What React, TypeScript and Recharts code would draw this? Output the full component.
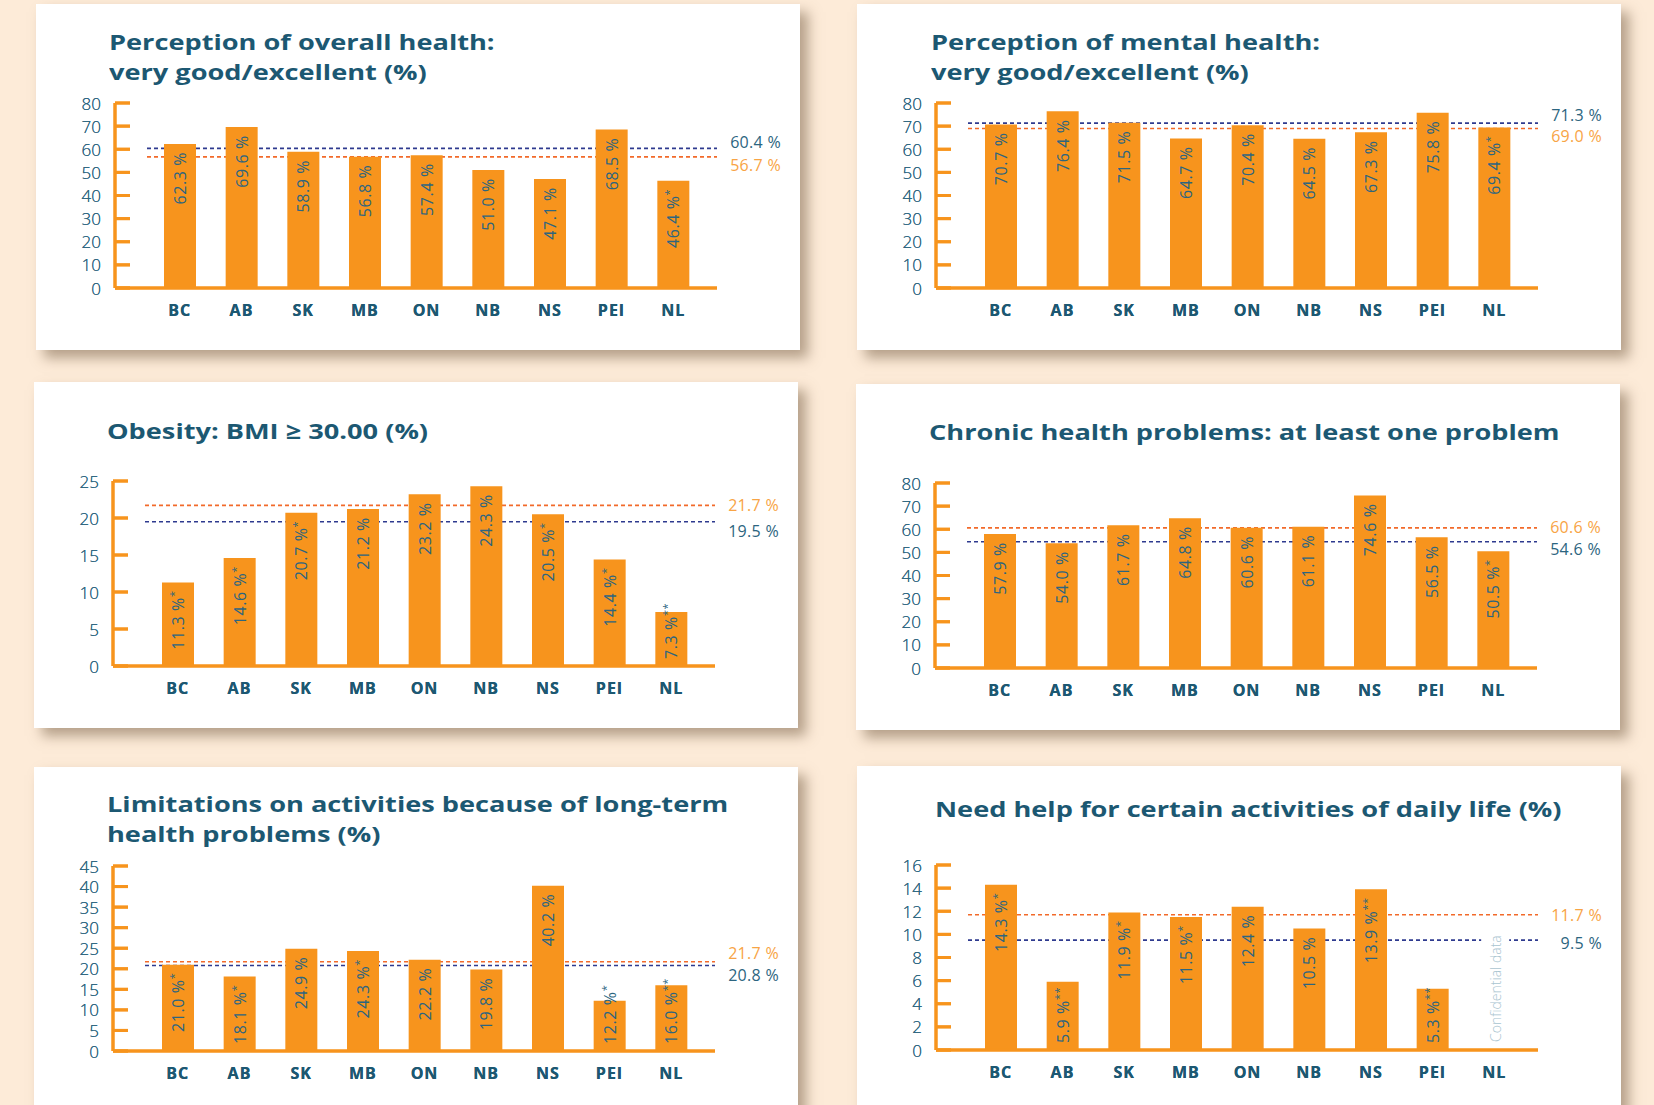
import React from "react";
import { BarChart, Bar, XAxis, YAxis, ReferenceLine, LabelList } from "recharts";

// categories
const provinces = ["BC", "AB", "SK", "MB", "ON", "NB", "NS", "PEI", "NL"];

// Perception of overall health
const overallValues = [62.3, 69.6, 58.9, 56.8, 57.4, 51.0, 47.1, 68.5, 46.4];
const overallFlags = ["", "", "", "", "", "", "", "", "*"];
const overallRefs = [60.4, 56.7]; // navy, orange
const overallTicks = [0, 10, 20, 30, 40, 50, 60, 70, 80];

// Perception of mental health
const mentalValues = [70.7, 76.4, 71.5, 64.7, 70.4, 64.5, 67.3, 75.8, 69.4];
const mentalFlags = ["", "", "", "", "", "", "", "", "*"];
const mentalRefs = [71.3, 69.0];
const mentalTicks = [0, 10, 20, 30, 40, 50, 60, 70, 80];

// Obesity
const obesityValues = [11.3, 14.6, 20.7, 21.2, 23.2, 24.3, 20.5, 14.4, 7.3];
const obesityFlags = ["*", "*", "*", "", "", "", "*", "*", "**"];
const obesityRefs = [19.5, 21.7];
const obesityTicks = [0, 5, 10, 15, 20, 25];

// Chronic health problems
const chronicValues = [57.9, 54.0, 61.7, 64.8, 60.6, 61.1, 74.6, 56.5, 50.5];
const chronicFlags = ["", "", "", "", "", "", "", "", "*"];
const chronicRefs = [54.6, 60.6];
const chronicTicks = [0, 10, 20, 30, 40, 50, 60, 70, 80];

// Limitations on activities
const limitValues = [21.0, 18.1, 24.9, 24.3, 22.2, 19.8, 40.2, 12.2, 16.0];
const limitFlags = ["*", "*", "", "*", "", "", "", "*", "**"];
const limitRefs = [20.8, 21.7];
const limitTicks = [0, 5, 10, 15, 20, 25, 30, 35, 40, 45];

// Need help for daily life (NL confidential)
const helpValues = [14.3, 5.9, 11.9, 11.5, 12.4, 10.5, 13.9, 5.3, null];
const helpFlags = ["*", "**", "*", "*", "", "", "**", "**", ""];
const helpRefs = [9.5, 11.7];
const helpTicks = [0, 2, 4, 6, 8, 10, 12, 14, 16];

const PEACH = "#fdebd8";
const ORANGE = "#f7941d";
const TITLE = "#1c5872";
const TEAL = "#2c6580";
const NAVY = "#2e3a8f";
const RED_ORANGE = "#f26a2a";
const LIGHT_ORANGE = "#f8a445";
const FONT = "'Open Sans', sans-serif";

const W = 764;
const H = 346;
const AXIS_X = 79;
const PLOT_TOP = 99;
const PLOT_BOTTOM = 284;
const PLOT_RIGHT = 681;
const X_AXIS_H = 40;
const MARGIN = { top: PLOT_TOP, right: W - PLOT_RIGHT, bottom: H - PLOT_BOTTOM - X_AXIS_H, left: 0 };

type ChartDef = {
  title: string[];
  values: (number | null)[];
  flags: string[];
  refs: number[];
  ticks: number[];
  left: number;
  top: number;
  titleLeft: number;
  titleTop: number;
  navyDy: number;
  orangeDy: number;
  confidential?: boolean;
};

const charts: ChartDef[] = [
  {
    title: ["Perception of overall health:", "very good/excellent (%)"],
    values: overallValues, flags: overallFlags, refs: overallRefs, ticks: overallTicks,
    left: 36, top: 4, titleLeft: 73, titleTop: 22, navyDy: -6, orangeDy: 8,
  },
  {
    title: ["Perception of mental health:", "very good/excellent (%)"],
    values: mentalValues, flags: mentalFlags, refs: mentalRefs, ticks: mentalTicks,
    left: 857, top: 4, titleLeft: 74, titleTop: 22, navyDy: -8, orangeDy: 8,
  },
  {
    title: ["Obesity: BMI \u2265 30.00 (%)"],
    values: obesityValues, flags: obesityFlags, refs: obesityRefs, ticks: obesityTicks,
    left: 34, top: 382, titleLeft: 73, titleTop: 33, navyDy: 9, orangeDy: 0,
  },
  {
    title: ["Chronic health problems: at least one problem"],
    values: chronicValues, flags: chronicFlags, refs: chronicRefs, ticks: chronicTicks,
    left: 856, top: 384, titleLeft: 73, titleTop: 32, navyDy: 7, orangeDy: -1,
  },
  {
    title: ["Limitations on activities because of long-term", "health problems (%)"],
    values: limitValues, flags: limitFlags, refs: limitRefs, ticks: limitTicks,
    left: 34, top: 767, titleLeft: 73, titleTop: 21, navyDy: 10, orangeDy: -9,
  },
  {
    title: ["Need help for certain activities of daily life (%)"],
    values: helpValues, flags: helpFlags, refs: helpRefs, ticks: helpTicks,
    left: 857, top: 766, titleLeft: 78, titleTop: 27, navyDy: 3, orangeDy: 0, confidential: true,
  },
];

const YTick = (props: any) => {
  const { y, payload } = props;
  return (
    <g>
      <line x1={AXIS_X} x2={AXIS_X + 15} y1={y} y2={y} stroke={ORANGE} strokeWidth={3} />
      <text
        x={AXIS_X - 14}
        y={y}
        textAnchor="end"
        dominantBaseline="central"
        fill={TEAL}
        fontSize={17}
        fontWeight={300}
        fontFamily={FONT}
      >
        {payload.value}
      </text>
    </g>
  );
};

const XTick = (props: any) => {
  const { x, y, payload } = props;
  return (
    <text
      x={x}
      y={y}
      dy={11}
      textAnchor="middle"
      fill={TITLE}
      fontSize={16}
      fontWeight={700}
      letterSpacing={1}
      fontFamily={FONT}
    >
      {payload.value}
    </text>
  );
};

const refShape = (color: string, label: string, labelColor: string, dy: number) => (props: any) => {
  const { x1, y1, x2 } = props;
  return (
    <g>
      <line x1={x1 + 32} y1={y1} x2={x2} y2={y1} stroke={color} strokeWidth={1.6} strokeDasharray="4 3" />
      <text
        x={W - 19}
        y={y1 + dy}
        textAnchor="end"
        dominantBaseline="central"
        fill={labelColor}
        fontSize={16}
        letterSpacing={0.3}
        fontFamily={FONT}
      >
        {label}
      </text>
    </g>
  );
};

const confidentialShape = (props: any) => {
  const { x1, y1, y2 } = props;
  const bottom = Math.max(y1, y2);
  return (
    <g>
      <rect x={x1 - 13} y={bottom - 124} width={28} height={120} fill="#fff" />
      <text
        x={x1 + 1}
        y={bottom - 8}
        transform={`rotate(-90, ${x1 + 1}, ${bottom - 8})`}
        textAnchor="start"
        dominantBaseline="central"
        fill="#a9c4d0"
        fontSize={14}
        fontWeight={300}
        fontFamily={FONT}
      >
        Confidential data
      </text>
    </g>
  );
};

function HealthChart({ def }: { def: ChartDef }) {
  const data = provinces.map((name, i) => ({ name, value: def.values[i] }));
  const max = def.ticks[def.ticks.length - 1];
  const [navyRef, orangeRef] = def.refs;

  const BarLabel = (props: any) => {
    const { x, y, width, height, index } = props;
    const v = def.values[index];
    if (v == null) return null;
    const flag = def.flags[index];
    const text = `${v.toFixed(1)} %`;
    const len = text.length * 16 * 0.6 + flag.length * 5;
    const fits = height > len + 14;
    const cx = x + width / 2;
    const ay = fits ? y + 8 : y + height - 7;
    return (
      <text
        x={cx}
        y={ay}
        transform={`rotate(-90, ${cx}, ${ay})`}
        textAnchor={fits ? "end" : "start"}
        dominantBaseline="central"
        fill={TEAL}
        fontSize={16}
        letterSpacing={0.6}
        fontFamily={FONT}
      >
        {text}
        {flag && (
          <tspan fontSize={11} dy={-5}>
            {flag}
          </tspan>
        )}
      </text>
    );
  };

  const xAxis = (
    <XAxis
      dataKey="name"
      height={X_AXIS_H}
      axisLine={{ stroke: ORANGE, strokeWidth: 3 }}
      tickLine={false}
      tickSize={0}
      tickMargin={17}
      interval={0}
      padding={{ left: 34, right: 13 }}
      tick={<XTick />}
    />
  );
  const yAxis = (
    <YAxis
      width={AXIS_X}
      domain={[0, max]}
      ticks={def.ticks}
      interval={0}
      axisLine={{ stroke: ORANGE, strokeWidth: 3 }}
      tickLine={false}
      tick={<YTick />}
    />
  );

  return (
    <div style={{ position: "relative", width: W, height: H }}>
      {/* back layer: reference lines, drawn behind the bars */}
      <div style={{ position: "absolute", left: 0, top: 0 }}>
        <BarChart width={W} height={H} data={data} margin={MARGIN}>
          {xAxis}
          {yAxis}
          <ReferenceLine y={navyRef} shape={refShape(NAVY, `${navyRef.toFixed(1)} %`, TEAL, def.navyDy)} />
          <ReferenceLine
            y={orangeRef}
            shape={refShape(RED_ORANGE, `${orangeRef.toFixed(1)} %`, LIGHT_ORANGE, def.orangeDy)}
          />
          {def.confidential && <ReferenceLine x="NL" shape={confidentialShape} />}
          <Bar dataKey="value" fill="none" barSize={32} isAnimationActive={false} />
        </BarChart>
      </div>
      {/* front layer: bars and their labels */}
      <div style={{ position: "absolute", left: 0, top: 0 }}>
        <BarChart width={W} height={H} data={data} margin={MARGIN}>
          {xAxis}
          {yAxis}
          <Bar dataKey="value" fill={ORANGE} barSize={32} isAnimationActive={false}>
            <LabelList dataKey="value" content={<BarLabel />} />
          </Bar>
        </BarChart>
      </div>
    </div>
  );
}

export default function App() {
  return (
    <div
      style={{
        position: "absolute",
        left: 0,
        top: 0,
        width: 1654,
        height: 1105,
        background: PEACH,
        overflow: "hidden",
        fontFamily: FONT,
      }}
    >
      {charts.map((def, i) => (
        <div
          key={i}
          style={{
            position: "absolute",
            left: def.left,
            top: def.top,
            width: W,
            height: H,
            background: "#fff",
            boxShadow: "8px 8px 12px rgba(110, 85, 60, 0.5)",
          }}
        >
          <div
            style={{
              position: "absolute",
              left: def.titleLeft,
              top: def.titleTop,
              color: TITLE,
              fontSize: 22,
              fontWeight: 700,
              lineHeight: "30px",
              whiteSpace: "nowrap",
              transform: "scaleX(1.235)",
              transformOrigin: "0 0",
            }}
          >
            {def.title.map((t, k) => (
              <div key={k}>{t}</div>
            ))}
          </div>
          <div style={{ position: "absolute", left: 0, top: 0 }}>
            <HealthChart def={def} />
          </div>
        </div>
      ))}
    </div>
  );
}
